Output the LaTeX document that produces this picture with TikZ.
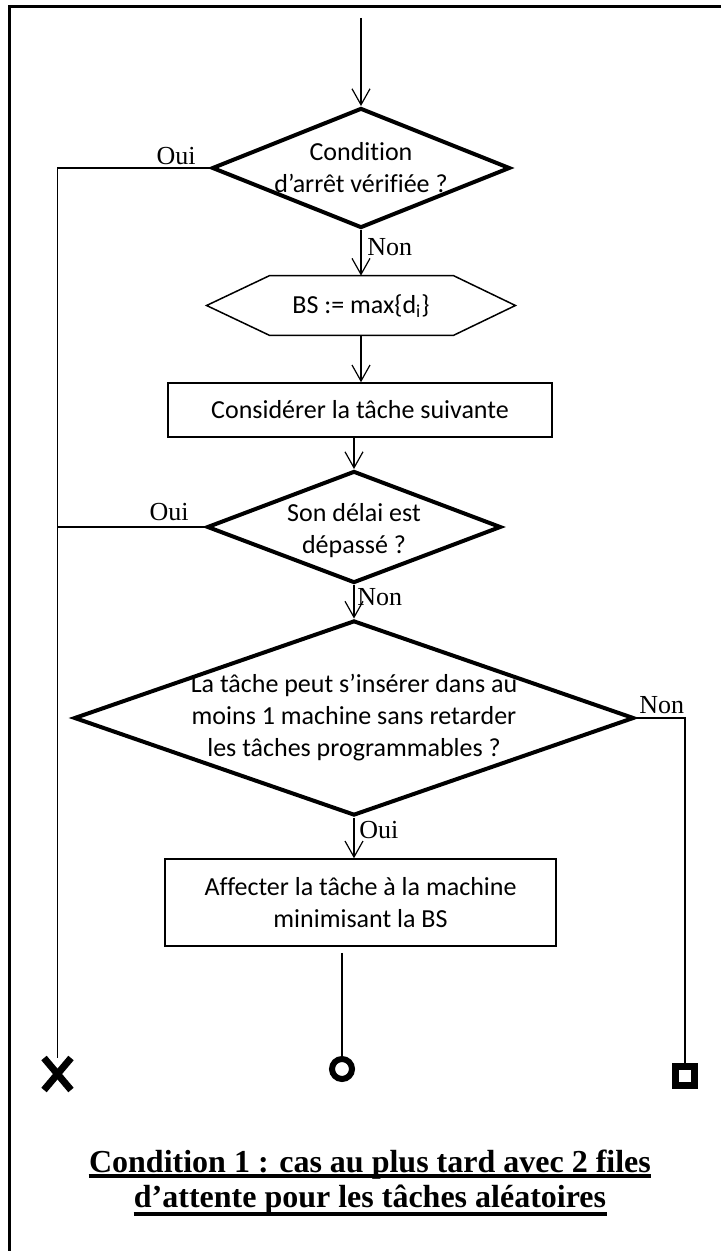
\documentclass[tikz,border=0pt]{standalone}
\usepackage{fontspec}
\setmainfont{Liberation Serif}
\newfontfamily\calfont[Ligatures=NoCommon]{Carlito}
\usetikzlibrary{arrows.meta,shapes.geometric,shapes.misc,calc}

\begin{document}
\begin{tikzpicture}[x=0.5pt,y=-0.5pt,
  conn/.style={line width=0.6pt},
  flow/.style={conn,-{Straight Barb[length=8pt,width=9pt]}},
  decision/.style={diamond,draw,line width=2pt,inner sep=0pt},
  box/.style={rectangle,draw,line width=0.75pt,inner sep=0pt,align=center,
    font=\calfont\fontsize{13}{16}\selectfont},
  body/.style={font=\calfont\fontsize{13}{16}\selectfont,align=center,inner sep=0pt},
  lbl/.style={font=\fontsize{13}{15}\selectfont,inner sep=0pt},
  caption/.style={font=\bfseries\fontsize{16}{17.5}\selectfont,inner sep=0pt,anchor=base},
]
\useasboundingbox (0,0) rectangle (721,1251);

% page frame (left and top edges)
\draw[line width=1.5pt] (9.5,1251) -- (9.5,6.5) -- (721,6.5);

% decisions and steps
\node[decision,minimum width=149pt,minimum height=60pt] (d1) at (361,168) {};
\node[body] (t1) at (361,168) {Condition\\d’arrêt vérifiée ?};

\node[inner sep=0pt,minimum width=154pt,minimum height=29.5pt] (hx) at (361,305.5) {};
\draw[line width=0.75pt] (hx.west) -- ($(hx.north west)+(63,0)$) -- ($(hx.north east)+(-62,0)$)
  -- (hx.east) -- ($(hx.south east)+(-62,0)$) -- ($(hx.south west)+(63,0)$) -- cycle;
\node[body] (thx) at (361,306) {BS := max\{d\textsubscript{i}\}};

\node[box,minimum width=192pt,minimum height=27pt] (r1) at (360,410) {Considérer la tâche suivante};

\node[decision,minimum width=147pt,minimum height=56pt] (d2) at (354,527) {};
\node[body] (t2) at (354,531) {Son délai est\\dépassé ?};

\node[decision,minimum width=280pt,minimum height=97.5pt] (d3) at (354,718) {};
\node[body] (t3) at (354,718) {La tâche peut s’insérer dans au\\moins 1 machine sans retarder\\les tâches programmables ?};

\node[box,minimum width=195.5pt,minimum height=43.5pt] (r2) at (360.5,902.5)
  {Affecter la tâche à la machine\\minimisant la BS};

% end markers
\node[cross out,draw,line width=3.5pt,minimum width=10pt,minimum height=12.5pt,inner sep=0pt] (xm) at (57.5,1074) {};
\node[circle,draw,line width=3pt,minimum size=10pt,inner sep=0pt] (ci) at (342,1069) {};
\node[rectangle,draw,line width=3.5pt,minimum size=9.5pt,inner sep=0pt] (sq) at (685,1075.5) {};

% connectors
\coordinate (start) at (361,18);
\draw[flow] (start) -- (d1.north);
\draw[conn] (d1.west) -| (xm.north);
\draw[conn] (d2.west) -- (d2.west -| xm.north);
\draw[flow] (d1.south) -- (hx.north);
\draw[flow] (hx.south) -- (hx.south |- r1.north);
\draw[flow] (r1.south -| d2.north) -- (d2.north);
\draw[flow] (d2.south) -- (d3.north);
\draw[conn] (d3.east) -| (sq.north);
\draw[flow] (d3.south) -- (d3.south |- r2.north);
\draw[conn] ([yshift=-3pt]r2.south -| ci.north) -- (ci.north);

% branch labels
\node[lbl,anchor=base east] (oui1) at (196,165) {Oui};
\node[lbl,anchor=base west] (non1) at (367,256) {Non};
\node[lbl,anchor=base east] (oui2) at (189,520) {Oui};
\node[lbl,anchor=base west] (non2) at (357,605) {Non};
\node[lbl,anchor=base west] (non3) at (639,713) {Non};
\node[lbl,anchor=base west] (oui3) at (359,838) {Oui};

% caption
\node[caption] (c1) at (370,1172) {Condition 1 : cas au plus tard avec 2 files};
\node[caption] (c2) at (370,1207) {d’attente pour les tâches aléatoires};
\draw[line width=1.8pt] ([yshift=-2pt]c1.base west) -- ([yshift=-2pt]c1.base east);
\draw[line width=1.8pt] ([yshift=-3.5pt]c2.base west) -- ([yshift=-3.5pt]c2.base east);
\end{tikzpicture}
\end{document}
